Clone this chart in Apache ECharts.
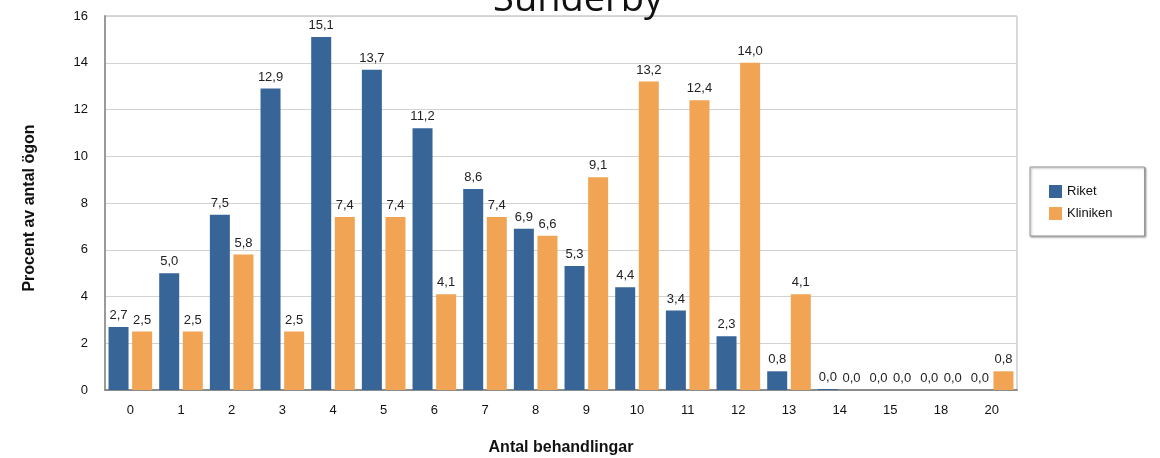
<!DOCTYPE html>
<html>
<head>
<meta charset="utf-8">
<style>
  html, body { margin: 0; padding: 0; background: #fff; }
  #chart { width: 1160px; height: 458px; }
</style>
<script src="https://cdn.jsdelivr.net/npm/echarts@6/dist/echarts.min.js"></script>
</head>
<body>
<div id="chart"></div>
<script>
// Antal behandlingar per öga, andel i procent
const categories = ['0', '1', '2', '3', '4', '5', '6', '7', '8', '9', '10', '11', '12', '13', '14', '15', '18', '20'];
const riket =    [2.7, 5.0, 7.5, 12.9, 15.1, 13.7, 11.2, 8.6, 6.9, 5.3, 4.4, 3.4, 2.3, 0.8, 0.04, 0.0, 0.0, 0.0];
const kliniken = [2.5, 2.5, 5.8, 2.5, 7.4, 7.4, 4.1, 7.4, 6.6, 9.1, 13.2, 12.4, 14.0, 4.1, 0.0, 0.0, 0.0, 0.8];
const yTicks = { min: 0, max: 16, interval: 2 };

const font = 'Liberation Sans, Arial, sans-serif';
const fmt = p => p.value.toFixed(1).replace('.', ',');

const chart = echarts.init(document.getElementById('chart'));
chart.setOption({
  animation: false,
  title: {
    text: 'Sunderby',
    left: 573,
    textAlign: 'center',
    top: -24,
    textStyle: { fontFamily: 'Open Sans, sans-serif', fontSize: 38, fontWeight: 'normal', color: '#111' }
  },
  legend: {
    orient: 'vertical',
    left: 1030,
    top: 167,
    itemWidth: 13,
    itemHeight: 13,
    itemGap: 9,
    padding: [18, 32, 16, 19],
    borderColor: '#999',
    borderWidth: 1,
    backgroundColor: '#fff',
    shadowColor: 'rgba(0,0,0,0.35)',
    shadowBlur: 2,
    shadowOffsetX: 1,
    shadowOffsetY: 1,
    textStyle: { fontFamily: font, fontSize: 13, color: '#111' },
    icon: 'rect',
    data: ['Riket', 'Kliniken']
  },
  grid: {
    left: 105, right: 143, top: 16, bottom: 68,
    outerBoundsMode: 'none',
    containLabel: false,
    show: true, borderColor: '#b0b0b0', borderWidth: 1
  },
  xAxis: {
    type: 'category',
    data: categories,
    name: 'Antal behandlingar',
    nameLocation: 'middle',
    nameGap: 50,
    nameTextStyle: { fontFamily: font, fontSize: 16, fontWeight: 'bold', color: '#111' },
    axisLine: { lineStyle: { color: '#8c8c8c', width: 2 } },
    axisTick: { show: false },
    axisLabel: { fontFamily: font, fontSize: 13, color: '#111', margin: 14 }
  },
  yAxis: {
    type: 'value',
    min: yTicks.min,
    max: yTicks.max,
    interval: yTicks.interval,
    name: 'Procent av antal ögon',
    nameLocation: 'middle',
    nameGap: 67,
    nameTextStyle: { fontFamily: font, fontSize: 16, fontWeight: 'bold', color: '#111', padding: [0, 10, 0, 0] },
    axisLine: { show: true, lineStyle: { color: '#9a9a9a', width: 2 } },
    axisTick: { show: false },
    axisLabel: { fontFamily: font, fontSize: 13, color: '#111', margin: 17 },
    splitLine: { lineStyle: { color: '#d2d2d2', width: 1 } }
  },
  series: [
    {
      name: 'Riket',
      type: 'bar',
      data: riket,
      barWidth: 20,
      barGap: '18%',
      itemStyle: { color: '#386597' },
      label: { show: true, position: 'top', distance: 5, formatter: fmt,
               fontFamily: font, fontSize: 13, color: '#222' }
    },
    {
      name: 'Kliniken',
      type: 'bar',
      data: kliniken,
      barWidth: 20,
      itemStyle: { color: '#f1a453' },
      label: { show: true, position: 'top', distance: 5, formatter: fmt,
               fontFamily: font, fontSize: 13, color: '#222' }
    }
  ]
});
</script>
</body>
</html>
